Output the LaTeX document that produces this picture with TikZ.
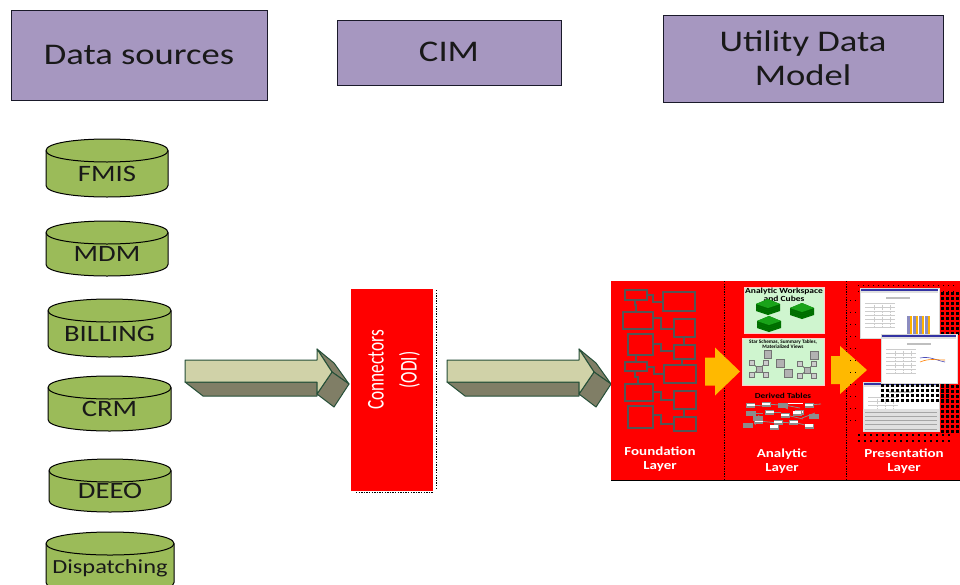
\documentclass[tikz,border=0pt]{standalone}
\usepackage{fontspec}
\setmainfont{Carlito}
\newfontfamily\widefont[FakeStretch=1.22]{Carlito}
\newfontfamily\narrowfont[FakeStretch=0.72]{Carlito}
\newfontfamily\layerfont[FakeStretch=1.22]{Carlito}
\definecolor{hdr}{HTML}{A697C0}
\definecolor{hdrline}{HTML}{1A1A2A}
\definecolor{cyl}{HTML}{9BBB59}
\definecolor{arrlight}{HTML}{D0D2A8}
\definecolor{arrdark}{HTML}{807E66}
\definecolor{arrline}{HTML}{254F38}
\definecolor{gold}{HTML}{FFB900}
\definecolor{mint}{HTML}{CFF5CF}
\definecolor{boxgray}{HTML}{555555}
\tikzset{
  hdrbox/.style={draw=hdrline,fill=hdr,line width=1pt},
  hdrtext/.style={font=\widefont\fontsize{30}{34}\selectfont,text=black!90,align=center},
  cyltext/.style={font=\widefont\fontsize{23.5}{24}\selectfont,text=black!90},
  arrow3d/.style={draw=arrline,line width=1pt,line join=round},
  fboxst/.style={draw=boxgray,line width=1.4pt},
  flink/.style={draw=boxgray,line width=1.2pt},
  layertext/.style={font=\layerfont\bfseries\fontsize{12.3}{14}\selectfont,text=white,align=center},
  tinytext/.style={font=\bfseries\fontsize{6.5}{7}\selectfont,text=black,align=center},
  dots/.style={draw=black,line width=1pt,dash pattern=on 1.4pt off 1.2pt},
  graybox/.style={draw=black!55,fill=black!30,line width=.8pt},
}
\newcommand{\mycyl}[7]{%
  \pgfmathsetmacro{\ym}{#3+#6}\pgfmathsetmacro{\yb}{#5-#6}%
  \pgfmathsetmacro{\xm}{(#2+#4)/2}\pgfmathsetmacro{\rx}{(#4-#2)/2}%
  \pgfmathsetmacro{\ybc}{#5+#6/3}\pgfmathsetmacro{\ytc}{#3-#6/3}\pgfmathsetmacro{\ybot}{#3+2*#6+#6/3}%
  \draw[fill=cyl,draw=black,line width=1pt] (#2,\ym) -- (#2,\yb) .. controls (#2,\ybc) and (#4,\ybc) .. (#4,\yb) -- (#4,\ym)
     .. controls (#4,\ytc) and (#2,\ytc) .. (#2,\ym) -- cycle;
  \draw[draw=black,line width=1pt] (#2,\ym) .. controls (#2,\ybot) and (#4,\ybot) .. (#4,\ym);
  \node[cyltext] (#1) at (\xm,{\ym+(#5-\ym)/2}) {#7};
}
\newcommand{\myarrow}[1]{%
  \begin{scope}[xshift=#1pt]
  \draw[arrow3d,fill=arrdark] (185,382) -- (203,396) -- (317,396) -- (317,382) -- cycle;
  \draw[arrow3d,fill=arrdark] (317,349) -- (334,363) -- (349,384) -- (332,372) -- cycle;
  \draw[arrow3d,fill=arrdark] (317,394) -- (334,407) -- (349,384) -- (332,372) -- cycle;
  \draw[arrow3d,fill=arrlight] (185,360) -- (317,360) -- (317,349) -- (332,372) -- (317,394) -- (317,382) -- (185,382) -- cycle;
  \end{scope}
}
\newcommand{\goldarrow}[4]{% x0, xhead, ymid, xtip
  \fill[gold] (#1,#3-14) -- (#2,#3-14) -- (#2,#3-24) -- (#4,#3) -- (#2,#3+24) -- (#2,#3+14) -- (#1,#3+14) -- cycle;
}
\newcommand{\mycube}[2]{%
  \fill[green!45!black] (#1-12,#2-3) -- (#1,#2-8) -- (#1+12,#2-3) -- (#1+12,#2+4) -- (#1,#2+8) -- (#1-12,#2+4) -- cycle;
  \fill[green!60!black!90] (#1-12,#2-3) -- (#1,#2-8) -- (#1+12,#2-3) -- (#1,#2+1) -- cycle;
  \foreach \d in {1,3,5}{\draw[black!60!green,line width=.4pt] (#1-12,#2-3+\d) -- (#1,#2+1+\d) -- (#1+12,#2-3+\d);}
}
\newcommand{\mystar}[2]{%
  \foreach \a/\b in {-7/-6,7/-6,-7/6,7/6}{
    \draw[black!60,line width=.8pt] (#1,#2) -- (#1+\a,#2+\b);
    \draw[graybox,fill=white!80!black] (#1+\a-2.2,#2+\b-2.2) rectangle (#1+\a+2.2,#2+\b+2.2);}
  \draw[graybox] (#1-3,#2-3) rectangle (#1+3,#2+3);
}
\newcommand{\myshot}[4]{% x1 y1 x2 y2
  \fill[white,draw=black!15] (#1,#2) rectangle (#3,#4);
  \fill[blue!55!black!80] (#1+1,#2+1) rectangle (#3-1,#2+3);
  \fill[black!12] (#1+1,#2+3) rectangle (#3-1,#2+5);
  \fill[black!25] (#1+26,#2+9) rectangle (#1+50,#2+11);
  \foreach \k in {0,1,...,6}{\draw[black!20,line width=.5pt] (#1+5,#2+15+\k*4) -- (#1+35,#2+15+\k*4);}
  \foreach \k in {0,1,2}{\draw[black!20,line width=.5pt,densely dotted] (#1+14+\k*8,#2+15) -- (#1+14+\k*8,#2+39);}
}
\begin{document}
\begin{tikzpicture}[x=1pt,y=-1pt]
\useasboundingbox (0,0) rectangle (960,584);
\clip (0,0) rectangle (960,584);
\fill[white] (0,0) rectangle (960,584);
% headers
\draw[hdrbox] (11,10) rectangle (267,100);
\node[hdrtext] (h1) at (139,55) {Data sources};
\draw[hdrbox] (337,20) rectangle (561,85);
\node[hdrtext] (h2) at (449,52) {CIM};
\draw[hdrbox] (663,15) rectangle (943,102);
\node[hdrtext] (h3) at (803,58) {Utility Data\\Model};
% cylinders
\mycyl{c1}{46}{139}{168}{197}{11.5}{FMIS}
\mycyl{c2}{46}{221}{168}{276}{11.5}{MDM}
\mycyl{c3}{48}{299}{171}{357}{11.5}{BILLING}
\mycyl{c4}{48}{376}{171}{431}{11.5}{CRM}
\mycyl{c5}{49}{459}{171}{512}{11.5}{DEEO}
\mycyl{c6}{46}{532}{174}{594}{11.5}{\fontsize{20}{20}\selectfont Dispatching}
% arrows
\myarrow{0}
\myarrow{262}
% connectors box
\fill[red] (351,289) rectangle (433,491);
\draw[dots] (436,290) -- (436,490);
\draw[dots,line width=1.5pt] (356,492.5) -- (433,492.5);
\node[font=\narrowfont\fontsize{24}{33}\selectfont,text=white,align=center,rotate=90] (conn) at (394,370) {Connectors\\(ODI)};
% panel
\fill[red] (611,281) rectangle (960,480);
\draw[black,line width=1.6pt] (611,480.5) -- (960,480.5);
\draw[dots] (724,281) -- (724,480);
\draw[dots] (846,281) -- (846,480);
% foundation
\foreach \a/\b/\c/\d in {625/290/647/300,663/292/695/311,623/312/653/329,674/319/695/337,628/334/653/355,674/345/695/359,625/362/647/371,664/365/696/383,625/384/653/401,674/391/696/409,628/406/653/428,674/417/696/431}
  {\draw[fboxst] (\a,\b) rectangle (\c,\d);}
\draw[flink] (647,295) -- (653,295) -- (653,302) -- (663,302);
\draw[flink] (635,300) -- (635,305) -- (636,305) -- (636,312);
\draw[flink] (653,318) -- (661,318) -- (661,329) -- (674,329);
\draw[flink] (684,337) -- (684,345);
\draw[flink] (653,344) -- (661,344) -- (661,351) -- (674,351);
\draw[flink] (636,355) -- (636,362);
\draw[flink] (682,359) -- (682,365);
\draw[flink] (647,367) -- (654,367) -- (654,374) -- (664,374);
\draw[flink] (635,371) -- (635,377) -- (638,377) -- (638,384);
\draw[flink] (653,392) -- (661,392) -- (661,400) -- (674,400);
\draw[flink] (684,409) -- (684,417);
\draw[flink] (653,415) -- (661,415) -- (661,424) -- (674,424);
\node[layertext] (l1) at (660,459) {Foundation\\Layer};
\goldarrow{705}{715}{371.5}{740}
\goldarrow{831}{840}{370}{867}
% analytic
\fill[mint,draw=white!80!red,line width=.5pt] (744,287) rectangle (824,333);
\node[tinytext,font=\layerfont\bfseries\fontsize{7.8}{6.5}\selectfont] (a1) at (784,294.5) {Analytic Workspace\\and Cubes};
\mycube{768}{307}\mycube{802}{311}\mycube{769}{324}
\fill[mint,draw=white!80!red,line width=.5pt] (742,338) rectangle (824,385);
\node[tinytext,font=\bfseries\fontsize{5.2}{5}\selectfont] (a2) at (783,344) {Star Schemas, Summary Tables,\\Materialized Views};
\draw[graybox] (764,350) rectangle (771,358);
\draw[graybox] (776,359) rectangle (784,367);
\draw[graybox] (784,369) rectangle (792,377);
\draw[graybox] (810,351) rectangle (818,359);
\mystar{759}{369}\mystar{807}{370}
\node[tinytext,text=black,font=\layerfont\bfseries\fontsize{7.6}{8}\selectfont] (a3) at (783,396) {Derived Tables};
\foreach \a/\b/\c/\d in {747/405/767/406,766/404/780/405,784/405/800/408,780/405/788/409,808/405/821/404,749/413/763/413,773/412/781/412,786/415/803/419,802/418/815/413,759/415/755/425,759/421/778/423,778/422/793/423,797/423/809/426}
  {\draw[black!45,line width=.8pt] (\a,\b) -- (\c,\d);}
\foreach \x/\y in {750.5/405.5,766/404.5,799/412.5,809/405.5,769.5/412.5,785/415.5,797/413,774/427,758.5/421.5,778/422.5,793.5/422.5,809/426}
  {\fill[black!45] (\x-4.5,\y-2.5) rectangle (\x+4.5,\y+2.5);\fill[white] (\x-4,\y-1.6) rectangle (\x+4,\y+0.8);}
\fill[white] (788,402.5) rectangle (803,403.5);
\foreach \x/\y in {750.5/413.5,783/405,814/416.5,758/418.5,748/425.5}
  {\fill[black!45] (\x-5,\y-2.5) rectangle (\x+5,\y+2.5);}
\node[layertext] (l2) at (782,461) {Analytic\\Layer};
% presentation halftone
\foreach \x in {858,863,...,953}{\foreach \y in {285,291}{\fill[black] (\x,\y) rectangle +(1.4,1.4);}}
\foreach \x in {941,946,951,956}{\foreach \y in {292,297,...,332}{\fill[black] (\x,\y) rectangle +(2.6,2.6);}}
\foreach \x in {941,946,951,956}{\foreach \y in {385,390,...,432}{\fill[black] (\x,\y) rectangle +(3,3);}}
\foreach \x in {858,864,...,950}{\foreach \y in {434,440}{\fill[black] (\x,\y) rectangle +(1.6,1.6);}}
\foreach \x in {850,855}{\foreach \y in {300,312,...,430}{\fill[black] (\x,\y) rectangle +(1.4,1.4);}}
\myshot{860}{288}{939}{338}
\foreach \k in {0,1,2,3}{\fill[blue!45!black!45] (907+\k*6,316) rectangle +(3,18);\fill[orange!60!yellow] (910+\k*6,316) rectangle +(2,18);}
\myshot{863}{382}{939}{431}
\foreach \x in {881,886,...,946}{\foreach \y in {384,389,...,399}{\fill[black] (\x,\y) rectangle +(2.8,2.8);}}
\fill[black!12] (863,409) rectangle (939,431);
\foreach \k in {0,1,2,3,4}{\draw[black!35,line width=.5pt] (865,412+\k*4.2) -- (937,412+\k*4.2);}
\myshot{881}{334}{957}{383}
\draw[blue!60!black!70,line width=.6pt] (920,358) .. controls (930,356) and (935,360) .. (945,362);
\draw[orange,line width=.6pt] (920,362) .. controls (930,358) and (935,360) .. (945,360);
\node[layertext] (l3) at (904,461) {Presentation\\Layer};
\end{tikzpicture}
\end{document}
